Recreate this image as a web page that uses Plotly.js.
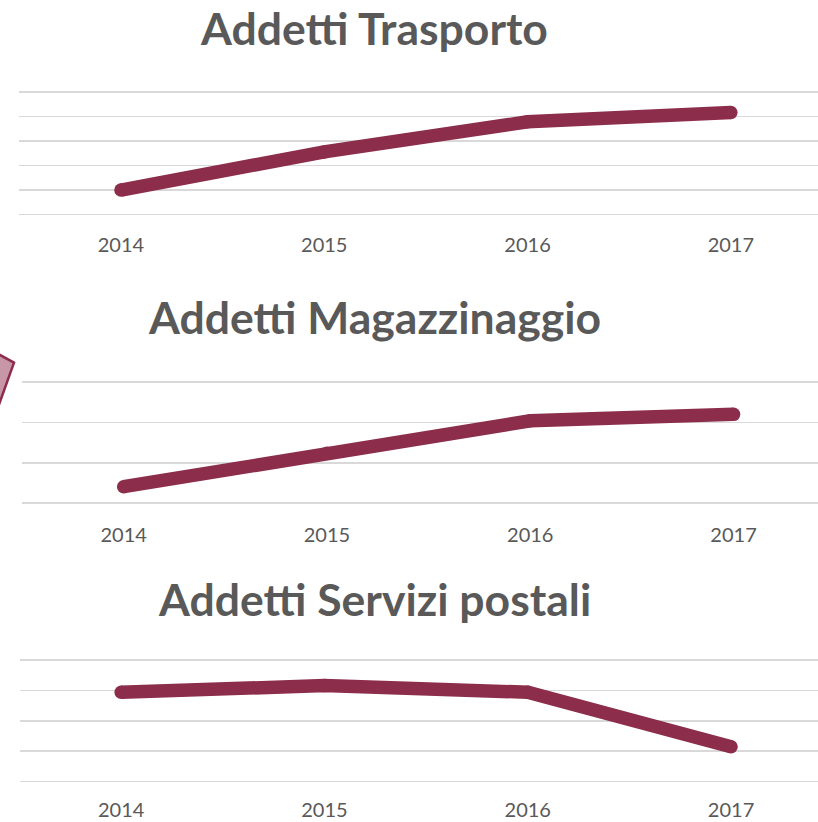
<!DOCTYPE html>
<html>
<head>
<meta charset="utf-8">
<script src="https://cdn.plot.ly/plotly-3.0.1.min.js"></script>
<style>html,body{margin:0;padding:0;background:#fff;overflow:hidden}#chart{width:818px;height:822px}</style>
</head>
<body>
<div id="chart"></div>
<script>
// Data (in gridline units; the original hides the value axis)
const years = ['2014', '2015', '2016', '2017'];
const trasporto = [0.99, 2.55, 3.78, 4.16];
const magazzinaggio = [0.41, 1.24, 2.04, 2.20];
const postali = [2.94, 3.16, 2.94, 1.15];
const titles = ['Addetti Trasporto', 'Addetti Magazzinaggio', 'Addetti Servizi postali'];

const W = 818, H = 822;
const lineColor = '#8c2d4b';
const gridColor = '#d9d9d9';
const textColor = '#595959';
const font = 'Lato, "Open Sans", sans-serif';

function px2x(p){ return p / W; }
function px2y(p){ return 1 - p / H; }

function trace(vals, i){
  const s = i === 0 ? '' : String(i + 1);
  return {
    x: years, y: vals, xaxis: 'x' + s, yaxis: 'y' + s,
    type: 'scatter', mode: 'lines+markers',
    line: {color: lineColor, width: 13.5},
    marker: {color: lineColor, size: 13.5},
    hoverinfo: 'skip', cliponaxis: false
  };
}

// panel pixel geometry: [left, top, bottom] and y range
const panels = [
  {left: 19.3, top: 89.55, bottom: 216.75, range: [-0.1, 5.1], titleY: 28, standoff: 14},
  {left: 22.0, top: 378.0, bottom: 507.3, range: [-0.1, 3.1], titleY: 316, standoff: 14},
  {left: 19.5, top: 657.0, bottom: 784.7, range: [-0.1, 4.1], titleY: 598, standoff: 11}
];

const layout = {
  width: W, height: H,
  margin: {l: 0, r: 0, t: 0, b: 0},
  paper_bgcolor: '#ffffff', plot_bgcolor: 'rgba(0,0,0,0)',
  showlegend: false,
  font: {family: font, color: textColor},
  annotations: [], shapes: []
};

panels.forEach((p, i) => {
  const s = i === 0 ? '' : String(i + 1);
  const spacing = 203.3;
  const rightVal = (W - (p.left + spacing / 2)) / spacing;
  layout['xaxis' + s] = {
    domain: [px2x(p.left), 1],
    anchor: 'y' + s,
    type: 'category',
    range: [-0.5, rightVal],
    showgrid: false, zeroline: false, showline: false,
    ticks: '', ticklabelstandoff: p.standoff,
    tickfont: {family: font, size: 20, color: textColor},
    fixedrange: true
  };
  layout['yaxis' + s] = {
    domain: [px2y(p.bottom), px2y(p.top)],
    anchor: 'x' + s,
    range: p.range, dtick: 1, tick0: 0,
    showgrid: true, gridcolor: gridColor, gridwidth: 1.6,
    zeroline: false, showline: false, showticklabels: false, ticks: '',
    fixedrange: true
  };
  layout.annotations.push({
    text: '<b>' + titles[i] + '</b>',
    xref: 'paper', yref: 'paper',
    x: px2x(374), y: px2y(p.titleY),
    xanchor: 'center', yanchor: 'middle', showarrow: false,
    font: {family: font, size: 44.5, color: textColor}
  });
});

// partial decorative shape cut off at the left edge
const pts = [[-10, 349.5], [14, 362.7], [-10, 429.6]];
layout.shapes.push({
  type: 'path', xref: 'paper', yref: 'paper',
  path: 'M ' + pts.map(q => px2x(q[0]) + ',' + px2y(q[1])).join(' L ') + ' Z',
  fillcolor: '#c796a7', line: {color: lineColor, width: 2.5}, layer: 'above'
});

Plotly.newPlot('chart', [trace(trasporto, 0), trace(magazzinaggio, 1), trace(postali, 2)], layout, {displayModeBar: false, staticPlot: true});
</script>
</body>
</html>
